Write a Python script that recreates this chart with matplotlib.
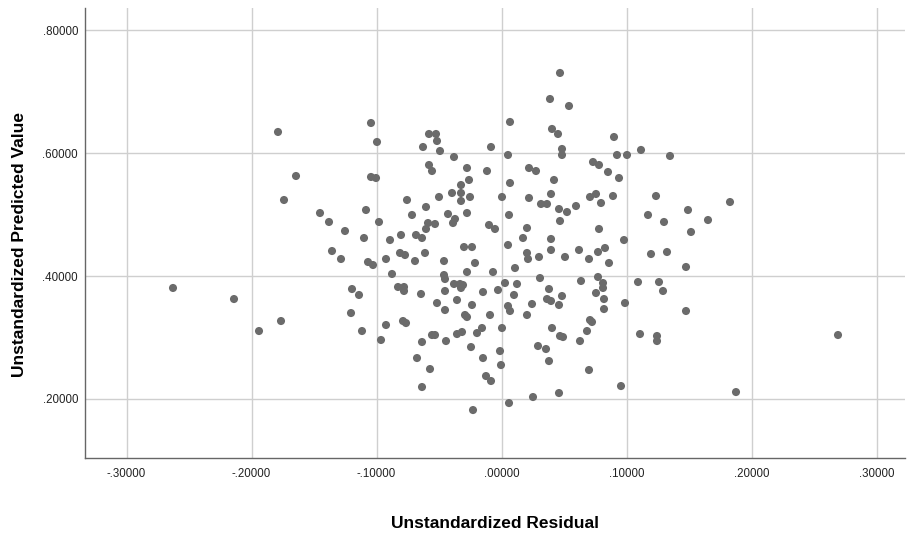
import matplotlib
matplotlib.use("Agg")
import matplotlib.pyplot as plt
from matplotlib.ticker import FuncFormatter

plt.rcParams['font.family'] = ['Liberation Sans', 'DejaVu Sans']

# values
residual = [
    -0.1788, -0.1644, -0.174, -0.1452, -0.138, -0.1044, -0.0996, -0.058, -0.0524, -0.0516,
    -0.0628, -0.0492, -0.0084, -0.038, 0.0052, -0.058, -0.0556, -0.0276, -0.0116, -0.1044,
    -0.1004, -0.026, 0.0068, -0.0324, -0.0324, -0.0396, -0.0252, -0.0324, -0.05, 0.0004,
    -0.0756, -0.0604, -0.1084, -0.0716, -0.0428, -0.0276, 0.006, -0.0372, -0.0388, -0.098,
    -0.0588, -0.0532, -0.0604, -0.01, -0.0052, -0.1252, -0.11, -0.0892, -0.0804, -0.0684,
    -0.0636, 0.0468, 0.0388, 0.054, 0.0068, 0.0404, 0.0452, 0.09, 0.0484, 0.0484,
    0.0924, 0.1004, 0.1116, 0.1348, 0.022, 0.0276, 0.0732, 0.078, 0.0852, 0.094,
    0.042, 0.022, 0.0396, 0.0316, 0.0364, 0.0708, 0.0756, 0.0796, 0.0892, 0.1236,
    0.046, 0.0524, 0.0596, 0.1172, 0.1492, 0.0468, 0.13, 0.0204, 0.0172, 0.0396,
    0.078, 0.098, 0.1516, 0.1828, 0.1652, -0.2628, -0.214, -0.1764, -0.194, -0.1356,
    -0.1284, -0.1068, -0.1028, -0.0924, -0.0812, -0.0772, -0.0692, -0.0612, -0.03, -0.0236,
    -0.046, -0.0212, -0.0276, -0.0068, 0.0052, -0.0876, -0.046, -0.0452, -0.038, -0.0332,
    -0.0308, -0.0324, 0.0028, -0.1196, -0.114, -0.0828, -0.078, -0.078, -0.0644, -0.0452,
    -0.0148, -0.0028, -0.0356, -0.0516, -0.0236, -0.0452, 0.0052, 0.0068, -0.1204, -0.0292,
    -0.0276, -0.0092, -0.0788, -0.0764, -0.0924, -0.1116, 0.0004, -0.0156, -0.0196, -0.0556,
    -0.0532, -0.0356, -0.0316, -0.0964, -0.0636, -0.0444, -0.0244, -0.0012, -0.0676, -0.0148,
    -0.0004, -0.0572, -0.0124, -0.0084, -0.0636, 0.006, -0.0228, 0.0396, 0.0204, 0.0212,
    0.03, 0.0508, 0.062, 0.07, 0.0772, 0.0828, 0.086, 0.1196, 0.1324, 0.1476,
    0.0108, 0.0308, 0.0124, 0.0636, 0.0772, 0.0812, 0.0812, 0.0756, 0.1092, 0.126,
    0.1292, 0.038, 0.0484, 0.01, 0.0364, 0.0396, 0.082, 0.0988, 0.0244, 0.046,
    0.082, 0.0204, 0.1476, 0.0708, 0.0724, 0.0404, 0.0684, 0.0468, 0.0492, 0.1108,
    0.1244, 0.1244, 0.0628, 0.0292, 0.0356, 0.038, 0.07, 0.0956, 0.046, 0.0252,
    0.2692, 0.1876,
]
predicted = [
    0.6346, 0.5629, 0.5238, 0.5026, 0.488, 0.6492, 0.6183, 0.6313, 0.6313, 0.6199,
    0.6101, 0.6036, 0.6101, 0.5938, 0.5971, 0.5808, 0.571, 0.5759, 0.571, 0.5613,
    0.5596, 0.5564, 0.5515, 0.5482, 0.5352, 0.5352, 0.5287, 0.5222, 0.5287, 0.5287,
    0.5238, 0.5124, 0.5075, 0.4994, 0.501, 0.5026, 0.4994, 0.4929, 0.4863, 0.488,
    0.4863, 0.4847, 0.4766, 0.4831, 0.4766, 0.4733, 0.4619, 0.4586, 0.4668, 0.4668,
    0.4619, 0.7307, 0.6883, 0.6769, 0.6509, 0.6395, 0.6313, 0.6264, 0.6069, 0.5971,
    0.5971, 0.5971, 0.6053, 0.5955, 0.5759, 0.571, 0.5857, 0.5808, 0.5694, 0.5596,
    0.5564, 0.5271, 0.5336, 0.5173, 0.5173, 0.5287, 0.5336, 0.5189, 0.5303, 0.5303,
    0.5091, 0.5042, 0.514, 0.4994, 0.5075, 0.4896, 0.488, 0.4782, 0.4619, 0.4603,
    0.4766, 0.4586, 0.4717, 0.5205, 0.4912, 0.3805, 0.3625, 0.3267, 0.3104, 0.4407,
    0.4277, 0.4228, 0.4179, 0.4277, 0.4375, 0.4342, 0.4244, 0.4375, 0.4472, 0.4472,
    0.4244, 0.4212, 0.4065, 0.4065, 0.4505, 0.4033, 0.4016, 0.3951, 0.387, 0.387,
    0.3853, 0.3805, 0.3886, 0.3788, 0.3691, 0.3821, 0.3821, 0.3756, 0.3707, 0.3756,
    0.3739, 0.3772, 0.3609, 0.356, 0.3528, 0.3446, 0.3511, 0.343, 0.3397, 0.3365,
    0.3332, 0.3365, 0.3267, 0.3234, 0.3202, 0.3104, 0.3153, 0.3153, 0.3071, 0.3039,
    0.3039, 0.3055, 0.3088, 0.2958, 0.2925, 0.2941, 0.2843, 0.2778, 0.2664, 0.2664,
    0.255, 0.2485, 0.2371, 0.229, 0.2192, 0.1931, 0.1817, 0.4424, 0.4375, 0.4277,
    0.431, 0.431, 0.4424, 0.4277, 0.4391, 0.4456, 0.4212, 0.4358, 0.4391, 0.4147,
    0.413, 0.3967, 0.387, 0.3919, 0.3984, 0.3886, 0.3805, 0.3723, 0.3902, 0.3902,
    0.3756, 0.3788, 0.3674, 0.3691, 0.3625, 0.3593, 0.3625, 0.356, 0.3544, 0.3528,
    0.3462, 0.3365, 0.343, 0.3283, 0.3251, 0.3153, 0.3104, 0.3023, 0.3006, 0.3055,
    0.3023, 0.2941, 0.2941, 0.286, 0.2811, 0.2615, 0.2469, 0.2208, 0.2094, 0.2029,
    0.3039, 0.211,
]
x_ticks = [-0.3, -0.2, -0.1, 0.0, 0.1, 0.2, 0.3]
y_ticks = [0.2, 0.4, 0.6, 0.8]


def spss_fmt(v, pos=None):
    s = "%.5f" % v
    if s.startswith("-0"):
        s = "-" + s[2:]
    elif s.startswith("0"):
        s = s[1:]
    return s


fig = plt.figure(figsize=(9.09, 5.41), dpi=100)
ax = fig.add_axes([85 / 909, 83 / 541, 820 / 909, 450 / 541])

ax.scatter(residual, predicted, s=34, color="#6b6b6b", edgecolors="none", zorder=3)

ax.set_xlim(-0.3332, 0.3228)
ax.set_ylim(0.1036, 0.8365)
ax.set_xticks(x_ticks)
ax.set_yticks(y_ticks)
ax.xaxis.set_major_formatter(FuncFormatter(spss_fmt))
ax.yaxis.set_major_formatter(FuncFormatter(spss_fmt))
ax.grid(True, color="#cfcfcf", linewidth=1.0, zorder=0)
ax.tick_params(length=0, labelsize=8.3, colors="#222222")
ax.tick_params(axis="x", pad=7)
ax.tick_params(axis="y", pad=5)

for side in ["top", "right"]:
    ax.spines[side].set_visible(False)
for side in ["left", "bottom"]:
    ax.spines[side].set_color("#666666")
    ax.spines[side].set_linewidth(1.0)

ax.set_xlabel("Unstandardized Residual", fontsize=12.5, fontweight="bold")
ax.set_ylabel("Unstandardized Predicted Value", fontsize=12.5, fontweight="bold")
ax.xaxis.set_label_coords(0.5, -0.128)
ax.yaxis.set_label_coords(-0.071, 0.475)

fig.savefig("out.png", dpi=100)
